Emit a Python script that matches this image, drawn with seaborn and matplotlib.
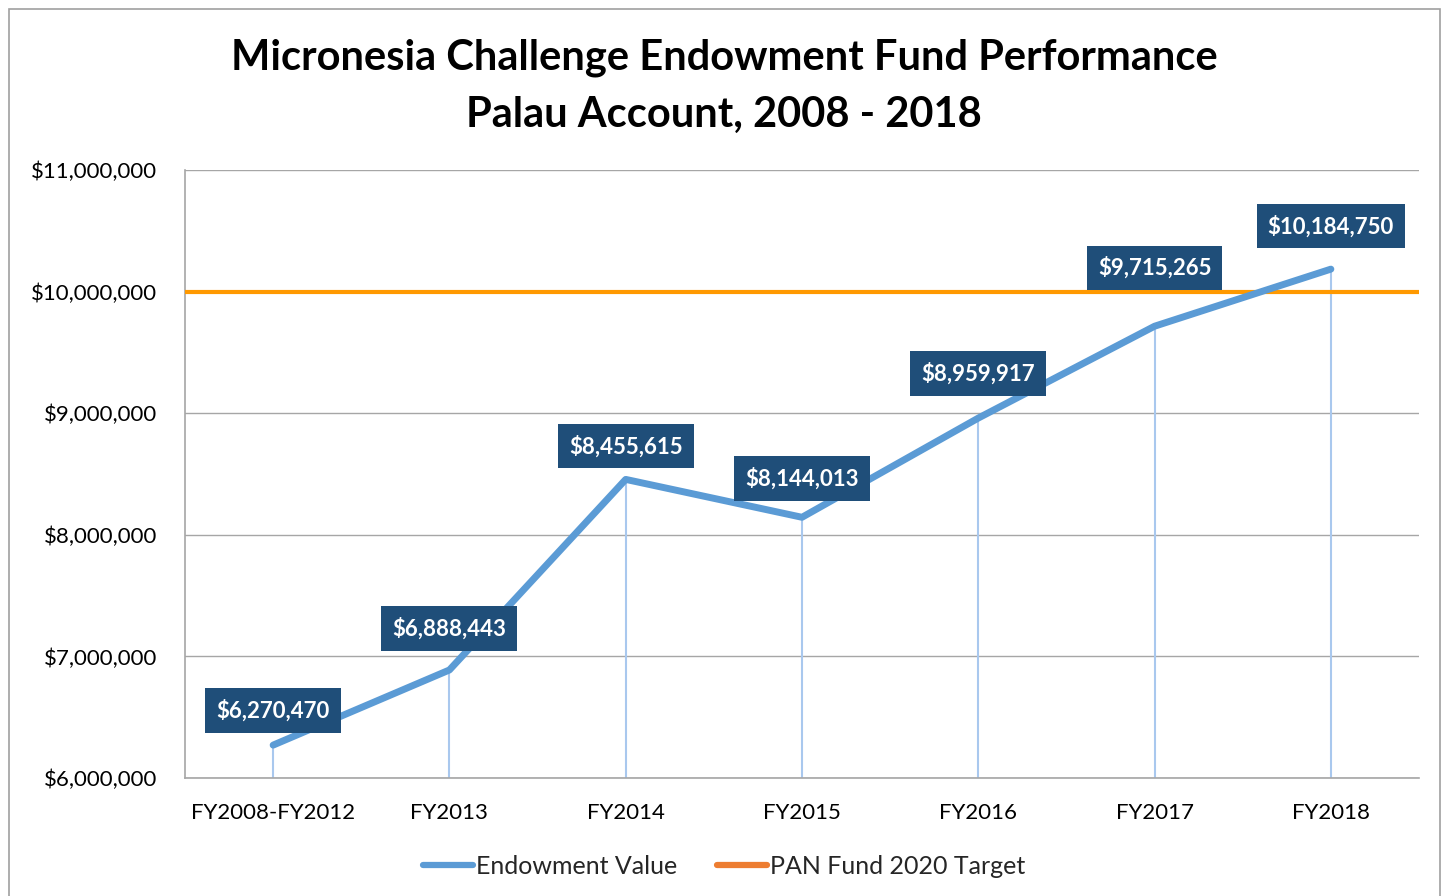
import matplotlib
matplotlib.use("Agg")
import matplotlib.pyplot as plt
import matplotlib.ticker as mticker
from matplotlib.lines import Line2D
from matplotlib.patches import Rectangle
import seaborn as sns
import pandas as pd

# chart data
years = ["FY2008-FY2012", "FY2013", "FY2014", "FY2015", "FY2016", "FY2017", "FY2018"]
endowment = [6270470, 6888443, 8455615, 8144013, 8959917, 9715265, 10184750]
target = 10000000
y_ticks = [6000000, 7000000, 8000000, 9000000, 10000000, 11000000]

# how far each value label sits above its point (points)
label_lift = [25, 30, 24, 28, 32, 42, 31]

BLUE = "#5B9BD5"
ORANGE = "#FF9900"
LEGEND_ORANGE = "#ED7D31"
NAVY = "#1F4E79"
DROP = "#A9C8EE"

sns.set_theme(style="white")
plt.rcParams["font.family"] = ["Lato", "DejaVu Sans"]

df = pd.DataFrame({"pos": range(len(years)), "year": years, "value": endowment})

fig = plt.figure(figsize=(14.48, 8.96), dpi=100)
ax = fig.add_axes([185 / 1448, 1 - 778 / 896, (1419 - 185) / 1448, (778 - 170) / 896])

# drop lines from each point to the axis
ax.vlines(df["pos"], y_ticks[0], df["value"], color=DROP, lw=1.5, zorder=2)

ax.axhline(target, color=ORANGE, lw=3, zorder=3)
sns.lineplot(data=df, x="pos", y="value", color=BLUE, lw=5, sort=False,
             solid_capstyle="round", solid_joinstyle="round", ax=ax, zorder=4)

for (_, r), lift in zip(df.iterrows(), label_lift):
    ax.annotate(f"${r['value']:,.0f}", (r["pos"], r["value"]), xytext=(0, lift),
                textcoords="offset points", ha="center", va="center",
                color="white", fontsize=16, fontweight="bold", zorder=6,
                bbox=dict(boxstyle="square,pad=0.5", fc=NAVY, ec="none"))

ax.set_xlim(-0.5, len(years) - 0.5)
ax.set_ylim(y_ticks[0], y_ticks[-1])
ax.set_xticks(df["pos"])
ax.set_xticklabels(years)
ax.set_yticks(y_ticks)
ax.yaxis.set_major_formatter(mticker.FuncFormatter(lambda v, p: f"${v:,.0f}"))
ax.tick_params(axis="both", length=0, labelsize=16, colors="black")
ax.tick_params(axis="x", pad=18)
ax.tick_params(axis="y", pad=20)
ax.grid(axis="y", color="#A6A6A6", lw=1)
ax.set_xlabel("")
ax.set_ylabel("")
for s in ["top", "right"]:
    ax.spines[s].set_visible(False)
for s in ["left", "bottom"]:
    ax.spines[s].set_color("#A6A6A6")
    ax.spines[s].set_linewidth(1.2)

fig.text(0.5, 1 - 58 / 896, "Micronesia Challenge Endowment Fund Performance",
         ha="center", va="center", fontsize=30, fontweight="bold", color="black")
fig.text(0.5, 1 - 115 / 896, "Palau Account, 2008 - 2018",
         ha="center", va="center", fontsize=30, fontweight="bold", color="black")

handles = [Line2D([], [], color=BLUE, lw=4.5, solid_capstyle="round"),
           Line2D([], [], color=LEGEND_ORANGE, lw=4.5, solid_capstyle="round")]
fig.legend(handles, ["Endowment Value", "PAN Fund 2020 Target"], loc="center",
           bbox_to_anchor=(0.5, 1 - 866 / 896), ncol=2, frameon=False,
           fontsize=18, handlelength=2.0, handletextpad=0.1, columnspacing=1.6)

fig.patches.append(Rectangle((9 / 1448, -0.01), (1440 - 9) / 1448, 1.01 - 9 / 896,
                             transform=fig.transFigure, fill=False,
                             ec="#A0A0A0", lw=1.2))

fig.savefig("out.png", dpi=100)
